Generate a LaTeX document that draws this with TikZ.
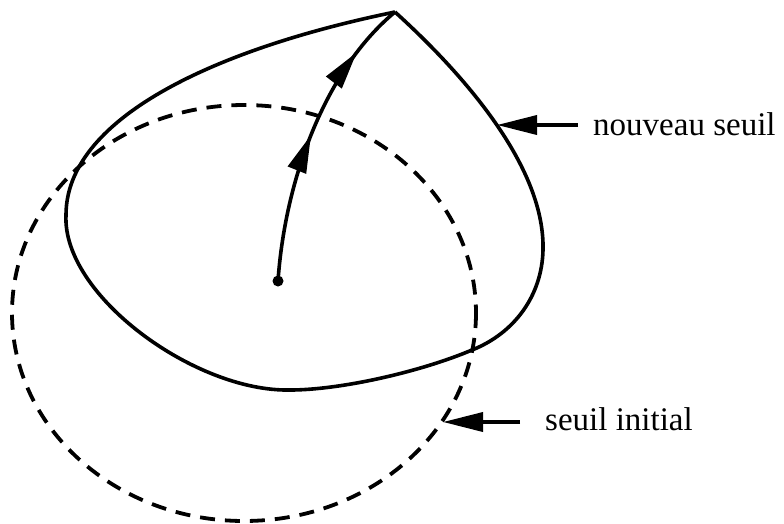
\documentclass[tikz,border=0pt]{standalone}
\usepackage{fontspec}
\setmainfont{Liberation Serif}
\usetikzlibrary{arrows.meta,decorations.markings}
\begin{document}
\begin{tikzpicture}[x=1pt,y=-1pt,
  curveline/.style={line width=3.6pt},
  dashcurve/.style={line width=3.8pt,dash pattern=on 15pt off 10pt},
  bigtip/.style={-{Triangle[length=40pt,width=19pt]}},
  lbl/.style={font=\fontsize{33}{36}\selectfont,anchor=west,inner sep=0pt},
  flow/.style={line width=3.6pt,postaction={decorate},
    decoration={markings,
      mark=at position 0.50 with {\arrow{Triangle[length=38pt,width=19pt]}},
      mark=at position 0.815 with {\arrow{Triangle[length=38pt,width=19pt]}}}}]
\useasboundingbox (0,0) rectangle (784,523);
% initial threshold (dashed ellipse)
\draw[dashcurve] (244,313) ellipse [x radius=232, y radius=208];
% new threshold (solid teardrop)
\coordinate (peak) at (395,12);
\draw[curveline] (peak) .. controls (470,80) and (545,170) .. (543,250)
  .. controls (542,295) and (515,333) .. (472,350)
  .. controls (420,372) and (340,390) .. (290,390)
  .. controls (195,392) and (62,295) .. (66,215)
  .. controls (66,120) and (210,50) .. (peak);
% centre point and displacement
\coordinate (centre) at (278,281);
\fill (centre) circle [radius=5.5];
\draw[flow] (centre) .. controls (285,180) and (325,70) .. (peak);
% labels
\node[lbl] (nouveau) at (593,124) {nouveau seuil};
\node[lbl] (initial) at (545,419) {seuil initial};
\coordinate (nstart) at (578,125);
\coordinate (ntip) at (497,125);
\coordinate (istart) at (520,422);
\coordinate (itip) at (443,422);
\draw[line width=3.6pt,bigtip] (nstart) -- (ntip);
\draw[line width=3.6pt,bigtip] (istart) -- (itip);
\end{tikzpicture}
\end{document}
